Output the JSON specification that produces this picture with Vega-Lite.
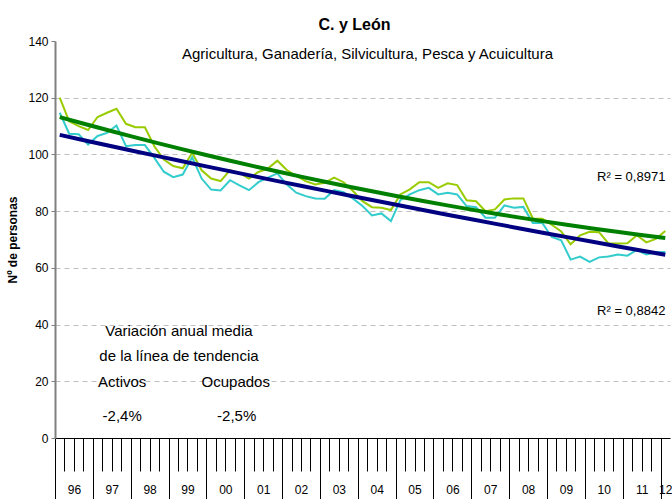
{
  "$schema": "https://vega.github.io/schema/vega-lite/v6.json",
  "width": 615,
  "height": 397,
  "autosize": {"type": "none"},
  "padding": {"left": 55, "top": 41, "right": 2, "bottom": 61},
  "background": "white",
  "config": {
    "view": {"stroke": null},
    "font": "Liberation Sans, Arial, sans-serif"
  },
  "title": {
    "text": "C. y León",
    "font": "Liberation Sans, Arial, sans-serif",
    "fontSize": 16,
    "fontWeight": "bold",
    "color": "#000000",
    "anchor": "middle",
    "dx": -8,
    "offset": 2
  },
  "datasets": {
    "series": [
      {"t": 0, "periodo": "1996-T1", "Activos": 120.0, "Ocupados": 114.7},
      {"t": 1, "periodo": "1996-T2", "Activos": 111.7, "Ocupados": 107.3},
      {"t": 2, "periodo": "1996-T3", "Activos": 110.0, "Ocupados": 107.1},
      {"t": 3, "periodo": "1996-T4", "Activos": 108.6, "Ocupados": 103.5},
      {"t": 4, "periodo": "1997-T1", "Activos": 113.2, "Ocupados": 106.5},
      {"t": 5, "periodo": "1997-T2", "Activos": 114.7, "Ocupados": 107.6},
      {"t": 6, "periodo": "1997-T3", "Activos": 116.1, "Ocupados": 110.2},
      {"t": 7, "periodo": "1997-T4", "Activos": 110.8, "Ocupados": 102.9},
      {"t": 8, "periodo": "1998-T1", "Activos": 109.6, "Ocupados": 103.3},
      {"t": 9, "periodo": "1998-T2", "Activos": 109.6, "Ocupados": 103.3},
      {"t": 10, "periodo": "1998-T3", "Activos": 102.9, "Ocupados": 98.8},
      {"t": 11, "periodo": "1998-T4", "Activos": 98.2, "Ocupados": 93.9},
      {"t": 12, "periodo": "1999-T1", "Activos": 95.9, "Ocupados": 92.0},
      {"t": 13, "periodo": "1999-T2", "Activos": 95.1, "Ocupados": 92.9},
      {"t": 14, "periodo": "1999-T3", "Activos": 100.6, "Ocupados": 99.0},
      {"t": 15, "periodo": "1999-T4", "Activos": 94.4, "Ocupados": 91.5},
      {"t": 16, "periodo": "2000-T1", "Activos": 91.5, "Ocupados": 87.6},
      {"t": 17, "periodo": "2000-T2", "Activos": 90.6, "Ocupados": 87.3},
      {"t": 18, "periodo": "2000-T3", "Activos": 94.5, "Ocupados": 90.9},
      {"t": 19, "periodo": "2000-T4", "Activos": 93.5, "Ocupados": 89.1},
      {"t": 20, "periodo": "2001-T1", "Activos": 91.5, "Ocupados": 87.4},
      {"t": 21, "periodo": "2001-T2", "Activos": 93.8, "Ocupados": 90.2},
      {"t": 22, "periodo": "2001-T3", "Activos": 95.0, "Ocupados": 91.8},
      {"t": 23, "periodo": "2001-T4", "Activos": 97.8, "Ocupados": 93.3},
      {"t": 24, "periodo": "2002-T1", "Activos": 94.5, "Ocupados": 89.4},
      {"t": 25, "periodo": "2002-T2", "Activos": 92.4, "Ocupados": 86.5},
      {"t": 26, "periodo": "2002-T3", "Activos": 90.6, "Ocupados": 85.3},
      {"t": 27, "periodo": "2002-T4", "Activos": 89.4, "Ocupados": 84.5},
      {"t": 28, "periodo": "2003-T1", "Activos": 90.0, "Ocupados": 84.4},
      {"t": 29, "periodo": "2003-T2", "Activos": 91.8, "Ocupados": 87.4},
      {"t": 30, "periodo": "2003-T3", "Activos": 90.2, "Ocupados": 86.7},
      {"t": 31, "periodo": "2003-T4", "Activos": 87.1, "Ocupados": 84.4},
      {"t": 32, "periodo": "2004-T1", "Activos": 83.5, "Ocupados": 81.8},
      {"t": 33, "periodo": "2004-T2", "Activos": 81.4, "Ocupados": 78.5},
      {"t": 34, "periodo": "2004-T3", "Activos": 81.2, "Ocupados": 79.2},
      {"t": 35, "periodo": "2004-T4", "Activos": 80.4, "Ocupados": 76.5},
      {"t": 36, "periodo": "2005-T1", "Activos": 85.9, "Ocupados": 83.9},
      {"t": 37, "periodo": "2005-T2", "Activos": 87.7, "Ocupados": 85.9},
      {"t": 38, "periodo": "2005-T3", "Activos": 90.2, "Ocupados": 87.4},
      {"t": 39, "periodo": "2005-T4", "Activos": 90.2, "Ocupados": 88.2},
      {"t": 40, "periodo": "2006-T1", "Activos": 88.2, "Ocupados": 85.9},
      {"t": 41, "periodo": "2006-T2", "Activos": 89.8, "Ocupados": 86.5},
      {"t": 42, "periodo": "2006-T3", "Activos": 89.2, "Ocupados": 85.9},
      {"t": 43, "periodo": "2006-T4", "Activos": 83.8, "Ocupados": 81.8},
      {"t": 44, "periodo": "2007-T1", "Activos": 83.5, "Ocupados": 81.4},
      {"t": 45, "periodo": "2007-T2", "Activos": 80.0, "Ocupados": 77.7},
      {"t": 46, "periodo": "2007-T3", "Activos": 80.6, "Ocupados": 77.7},
      {"t": 47, "periodo": "2007-T4", "Activos": 84.1, "Ocupados": 82.0},
      {"t": 48, "periodo": "2008-T1", "Activos": 84.5, "Ocupados": 81.2},
      {"t": 49, "periodo": "2008-T2", "Activos": 84.5, "Ocupados": 81.5},
      {"t": 50, "periodo": "2008-T3", "Activos": 77.4, "Ocupados": 75.8},
      {"t": 51, "periodo": "2008-T4", "Activos": 77.3, "Ocupados": 75.8},
      {"t": 52, "periodo": "2009-T1", "Activos": 75.2, "Ocupados": 70.9},
      {"t": 53, "periodo": "2009-T2", "Activos": 72.8, "Ocupados": 69.7},
      {"t": 54, "periodo": "2009-T3", "Activos": 68.3, "Ocupados": 62.9},
      {"t": 55, "periodo": "2009-T4", "Activos": 71.5, "Ocupados": 64.0},
      {"t": 56, "periodo": "2010-T1", "Activos": 72.7, "Ocupados": 62.1},
      {"t": 57, "periodo": "2010-T2", "Activos": 72.6, "Ocupados": 63.7},
      {"t": 58, "periodo": "2010-T3", "Activos": 68.6, "Ocupados": 64.0},
      {"t": 59, "periodo": "2010-T4", "Activos": 68.6, "Ocupados": 64.7},
      {"t": 60, "periodo": "2011-T1", "Activos": 68.7, "Ocupados": 64.3},
      {"t": 61, "periodo": "2011-T2", "Activos": 71.5, "Ocupados": 66.3},
      {"t": 62, "periodo": "2011-T3", "Activos": 69.0, "Ocupados": 64.7},
      {"t": 63, "periodo": "2011-T4", "Activos": 70.2, "Ocupados": 65.5},
      {"t": 64, "periodo": "2012-T1", "Activos": 73.0, "Ocupados": 65.6}
    ],
    "notes": [
      {"x": 32.53, "y": 135.3, "texto": "Agricultura, Ganadería, Silvicultura, Pesca y Acuicultura", "size": "l"},
      {"x": 60.4, "y": 92.0, "texto": "R² = 0,8971", "size": "m"},
      {"x": 60.4, "y": 44.7, "texto": "R² = 0,8842", "size": "m"},
      {"x": 12.6, "y": 37.6, "texto": "Variación anual media", "size": "l"},
      {"x": 12.6, "y": 29.0, "texto": "de la línea de tendencia", "size": "l"},
      {"x": 6.6, "y": 19.8, "texto": "Activos", "size": "l"},
      {"x": 18.6, "y": 19.8, "texto": "Ocupados", "size": "l"},
      {"x": 6.6, "y": 7.8, "texto": "-2,4%", "size": "l"},
      {"x": 18.7, "y": 7.8, "texto": "-2,5%", "size": "l"}
    ]
  },
  "resolve": {"scale": {"color": "independent", "size": "independent"}, "axis": {"x": "independent"}},
  "layer": [
    {
      "data": {"name": "series"},
      "transform": [{"fold": ["Activos", "Ocupados"], "as": ["serie", "valor"]}],
      "mark": {"type": "line", "strokeWidth": 2},
      "encoding": {
        "x": {
          "field": "t",
          "type": "quantitative",
          "scale": {"domain": [-0.5, 64.5], "nice": false, "zero": false},
          "axis": {
            "orient": "bottom",
            "title": null,
            "grid": false,
            "labels": false,
            "values": [0.5, 1.5, 2.5, 3.5, 4.5, 5.5, 6.5, 7.5, 8.5, 9.5, 10.5, 11.5, 12.5, 13.5, 14.5, 15.5, 16.5, 17.5, 18.5, 19.5, 20.5, 21.5, 22.5, 23.5, 24.5, 25.5, 26.5, 27.5, 28.5, 29.5, 30.5, 31.5, 32.5, 33.5, 34.5, 35.5, 36.5, 37.5, 38.5, 39.5, 40.5, 41.5, 42.5, 43.5, 44.5, 45.5, 46.5, 47.5, 48.5, 49.5, 50.5, 51.5, 52.5, 53.5, 54.5, 55.5, 56.5, 57.5, 58.5, 59.5, 60.5, 61.5, 62.5, 63.5],
            "tickSize": 33,
            "tickColor": "#000000",
            "tickWidth": 1,
            "domainColor": "#000000",
            "domainWidth": 1
          }
        },
        "y": {
          "field": "valor",
          "type": "quantitative",
          "scale": {"domain": [0, 140], "nice": false, "zero": true},
          "axis": {
            "values": [0, 20, 40, 60, 80, 100, 120, 140],
            "title": "Nº de personas",
            "titleFont": "Liberation Sans, Arial, sans-serif",
            "titleFontSize": 12,
            "titleFontWeight": "bold",
            "titleColor": "#000000",
            "titlePadding": 8,
            "labelFontSize": 12,
            "labelColor": "#000000",
            "labelPadding": 3,
            "tickSize": 4,
            "tickColor": "#808080",
            "domainColor": "#808080",
            "domainWidth": 2,
            "grid": true,
            "gridColor": "#c0c0c0",
            "gridDash": [5, 4],
            "gridOpacity": {"condition": {"test": "datum.value == 140 || datum.value == 0", "value": 0}, "value": 1}
          }
        },
        "color": {
          "field": "serie",
          "type": "nominal",
          "scale": {"domain": ["Activos", "Ocupados"], "range": ["#99CC00", "#33CCCC"]},
          "legend": null
        }
      }
    },
    {
      "data": {"name": "series"},
      "transform": [
        {"fold": ["Activos", "Ocupados"], "as": ["serie", "valor"]},
        {"regression": "valor", "on": "t", "groupby": ["serie"], "method": "poly", "order": 2}
      ],
      "mark": {"type": "line", "strokeWidth": 4},
      "encoding": {
        "x": {
          "field": "t",
          "type": "quantitative",
          "scale": {"domain": [-0.5, 64.5], "nice": false, "zero": false},
          "axis": {
            "orient": "bottom",
            "title": null,
            "grid": false,
            "labels": false,
            "domain": false,
            "values": [-0.5, 3.5, 7.5, 11.5, 15.5, 19.5, 23.5, 27.5, 31.5, 35.5, 39.5, 43.5, 47.5, 51.5, 55.5, 59.5, 63.5],
            "tickSize": 61,
            "tickColor": "#000000",
            "tickWidth": 1
          }
        },
        "y": {
          "field": "valor",
          "type": "quantitative",
          "scale": {"domain": [0, 140], "nice": false, "zero": true},
          "axis": {
            "values": [0, 20, 40, 60, 80, 100, 120, 140],
            "title": "Nº de personas",
            "titleFont": "Liberation Sans, Arial, sans-serif",
            "titleFontSize": 12,
            "titleFontWeight": "bold",
            "titleColor": "#000000",
            "titlePadding": 8,
            "labelFontSize": 12,
            "labelColor": "#000000",
            "labelPadding": 3,
            "tickSize": 4,
            "tickColor": "#808080",
            "domainColor": "#808080",
            "domainWidth": 2,
            "grid": true,
            "gridColor": "#c0c0c0",
            "gridDash": [5, 4],
            "gridOpacity": {"condition": {"test": "datum.value == 140 || datum.value == 0", "value": 0}, "value": 1}
          }
        },
        "color": {
          "field": "serie",
          "type": "nominal",
          "scale": {"domain": ["Activos", "Ocupados"], "range": ["#008000", "#000080"]},
          "legend": null
        }
      }
    },
    {
      "data": {"name": "notes"},
      "mark": {"type": "text", "align": "center", "baseline": "middle", "color": "#000000", "font": "Liberation Sans, Arial, sans-serif"},
      "encoding": {
        "x": {
          "field": "x",
          "type": "quantitative",
          "scale": {"domain": [-0.5, 64.5], "nice": false, "zero": false},
          "axis": {
            "orient": "bottom",
            "title": null,
            "grid": false,
            "domain": false,
            "ticks": false,
            "tickSize": 0,
            "values": [1.5, 5.5, 9.5, 13.5, 17.5, 21.5, 25.5, 29.5, 33.5, 37.5, 41.5, 45.5, 49.5, 53.5, 57.5, 61.5, 64],
            "labelExpr": "slice('0' + ((96 + floor((datum.value + 0.5) / 4)) % 100), -2)",
            "labelPadding": 46,
            "labelFontSize": 12,
            "labelColor": "#000000",
            "labelFlush": false,
            "labelOverlap": false
          }
        },
        "y": {
          "field": "y",
          "type": "quantitative",
          "scale": {"domain": [0, 140], "nice": false, "zero": true},
          "axis": {
            "values": [0, 20, 40, 60, 80, 100, 120, 140],
            "title": "Nº de personas",
            "titleFont": "Liberation Sans, Arial, sans-serif",
            "titleFontSize": 12,
            "titleFontWeight": "bold",
            "titleColor": "#000000",
            "titlePadding": 8,
            "labelFontSize": 12,
            "labelColor": "#000000",
            "labelPadding": 3,
            "tickSize": 4,
            "tickColor": "#808080",
            "domainColor": "#808080",
            "domainWidth": 2,
            "grid": true,
            "gridColor": "#c0c0c0",
            "gridDash": [5, 4],
            "gridOpacity": {"condition": {"test": "datum.value == 140 || datum.value == 0", "value": 0}, "value": 1}
          }
        },
        "text": {"field": "texto"},
        "size": {"field": "size", "type": "nominal", "scale": {"domain": ["l", "m"], "range": [15, 13]}, "legend": null}
      }
    }
  ]
}
